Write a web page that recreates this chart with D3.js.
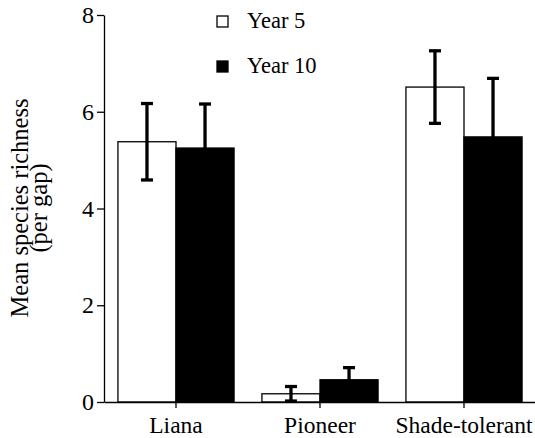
<!DOCTYPE html>
<html>
<head>
<meta charset="utf-8">
<script src="https://cdn.jsdelivr.net/npm/d3@7"></script>
<style>
  body { margin: 0; background: #fff; }
</style>
</head>
<body>
<div id="chart"></div>
<script>
const width = 535;
const height = 438;
const serif = "'Liberation Serif', monospace";

// data
const categories = ["Liana", "Pioneer", "Shade-tolerant"];
const seriesNames = ["Year 5", "Year 10"];
const year5 = [5.38, 0.17, 6.51];
const year5Err = [0.79, 0.15, 0.75];
const year10 = [5.25, 0.46, 5.48];
const year10Err = [0.91, 0.25, 1.21];
const yTicks = [0, 2, 4, 6, 8];

const svg = d3.select("#chart")
  .append("svg")
  .attr("width", width)
  .attr("height", height);

const x = d3.scaleBand()
  .domain(categories)
  .range([104, 536])
  .paddingInner(0)
  .paddingOuter(0);

const xSub = d3.scaleBand()
  .domain(seriesNames)
  .range([0, x.bandwidth()])
  .paddingOuter(0.24)
  .paddingInner(0);

const y = d3.scaleLinear()
  .domain([0, 8])
  .range([402, 15]);

// build rows from the arrays
const rows = [];
categories.forEach((c, i) => {
  rows.push({ cat: c, s: "Year 5", v: year5[i], e: year5Err[i], fill: "#fff" });
  rows.push({ cat: c, s: "Year 10", v: year10[i], e: year10Err[i], fill: "#000" });
});

// bars
svg.selectAll("rect.bar")
  .data(rows)
  .enter()
  .append("rect")
  .attr("class", "bar")
  .attr("x", d => x(d.cat) + xSub(d.s))
  .attr("y", d => y(d.v))
  .attr("width", xSub.bandwidth())
  .attr("height", d => y(0) - y(d.v))
  .attr("fill", d => d.fill)
  .attr("stroke", "#000")
  .attr("stroke-width", 1.3);

// error bars
const eb = svg.selectAll("g.err")
  .data(rows)
  .enter()
  .append("g")
  .attr("class", "err")
  .attr("transform", d => "translate(" + (x(d.cat) + xSub(d.s) + xSub.bandwidth() / 2) + ",0)");

eb.append("line")
  .attr("y1", d => y(d.v + d.e))
  .attr("y2", d => y(Math.max(0, d.v - d.e)))
  .attr("stroke", "#000")
  .attr("stroke-width", 3.3);

eb.append("line")
  .attr("x1", -6).attr("x2", 6)
  .attr("y1", d => y(d.v + d.e))
  .attr("y2", d => y(d.v + d.e))
  .attr("stroke", "#000")
  .attr("stroke-width", 3.3);

eb.append("line")
  .attr("x1", -6).attr("x2", 6)
  .attr("y1", d => y(Math.max(0, d.v - d.e)))
  .attr("y2", d => y(Math.max(0, d.v - d.e)))
  .attr("stroke", "#000")
  .attr("stroke-width", 3.3);

// axes
const yAxis = d3.axisLeft(y).tickValues(yTicks).tickSize(7).tickSizeOuter(0).tickPadding(3);
const xAxis = d3.axisBottom(x).tickSize(6).tickSizeOuter(0).tickPadding(8);

const gy = svg.append("g")
  .attr("transform", "translate(104,0)")
  .call(yAxis)
  .attr("font-family", null);
gy.selectAll("text").attr("font-size", 24).style("font-family", serif).attr("fill", "#000");

const gx = svg.append("g")
  .attr("transform", "translate(0,402)")
  .call(xAxis)
  .attr("font-family", null);
gx.selectAll("text").attr("font-size", 23.5).style("font-family", serif).attr("fill", "#000");

svg.selectAll(".domain, .tick line").attr("stroke", "#000").attr("stroke-width", 1.3);

// y axis title
const yt = svg.append("text")
  .attr("transform", "translate(28,208) rotate(-90)")
  .attr("text-anchor", "middle")
  .attr("font-size", 24.5)
  .style("font-family", serif)
  .attr("fill", "#000");
yt.append("tspan").attr("x", 0).attr("dy", 0).text("Mean species richness");
yt.append("tspan").attr("x", 0).attr("dy", 18.5).text("(per gap)");

// legend
const legend = svg.selectAll("g.leg")
  .data(seriesNames)
  .enter()
  .append("g")
  .attr("class", "leg")
  .attr("transform", (d, i) => "translate(217," + (16 + i * 45) + ")");

legend.append("rect")
  .attr("width", 11)
  .attr("height", 11)
  .attr("fill", (d, i) => i === 0 ? "#fff" : "#000")
  .attr("stroke", "#000")
  .attr("stroke-width", 1.3);

legend.append("text")
  .attr("x", 30)
  .attr("y", 11.5)
  .attr("font-size", 22.5)
  .style("font-family", serif)
  .attr("fill", "#000")
  .text(d => d);
</script>
</body>
</html>
